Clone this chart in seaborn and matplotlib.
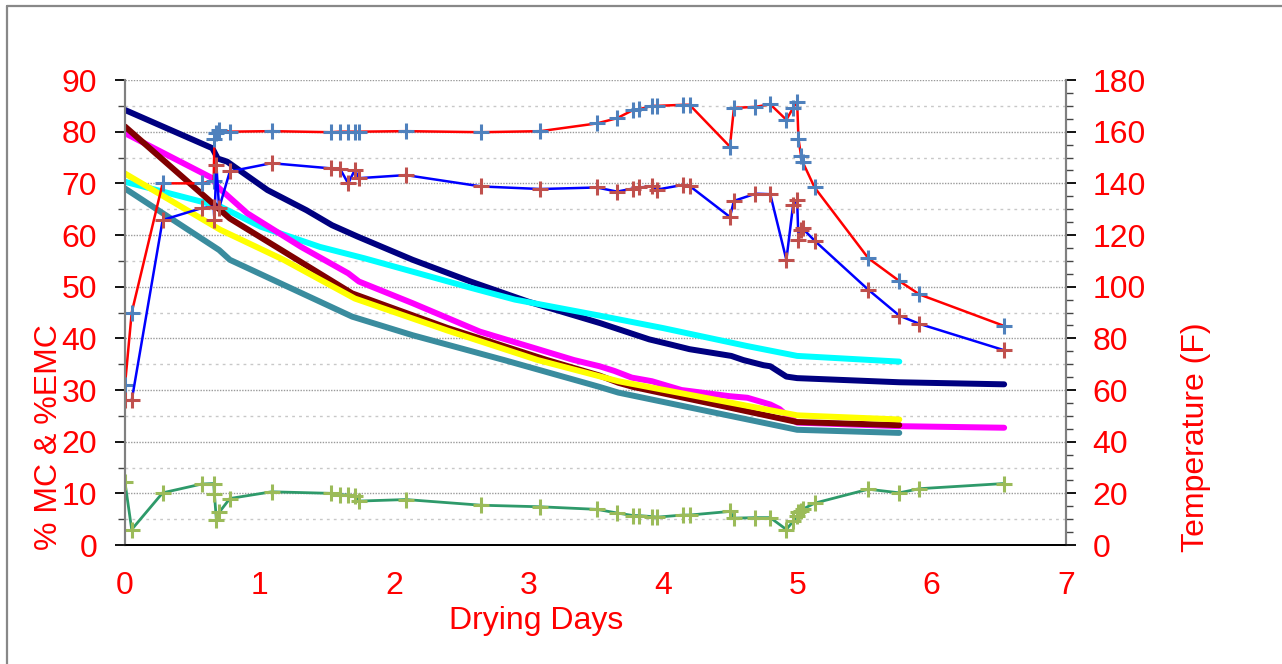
import numpy as np
import pandas as pd
import matplotlib
matplotlib.use("Agg")
import matplotlib.pyplot as plt
from matplotlib.ticker import MultipleLocator
from matplotlib.lines import Line2D
import seaborn as sns

# ------------------------------------------------------------------
#  Data
# ------------------------------------------------------------------
# moisture content curves (% MC), one per sample board
navy_days = [0, 0.65, 0.69, 0.76, 1.06, 1.35, 1.54, 1.73, 2.14, 2.57, 3.0, 3.54, 3.9, 4.06, 4.2, 4.51, 4.6, 4.75, 4.8, 4.92, 5.0, 5.76, 6.54]
navy_mc = [84.2, 76.8, 74.8, 74.2, 68.7, 64.8, 61.9, 59.7, 55.2, 51.0, 47.1, 42.9, 39.8, 38.8, 37.9, 36.6, 35.8, 34.8, 34.6, 32.6, 32.3, 31.5, 31.1]

cyan_days = [0, 0.71, 1.01, 1.45, 1.78, 2.57, 2.9, 3.53, 4.0, 4.63, 5.0, 5.76]
cyan_mc = [70.3, 65.5, 61.6, 57.7, 55.5, 49.8, 47.5, 44.4, 42.0, 38.5, 36.6, 35.5]

magenta_days = [0, 0.65, 0.69, 0.91, 1.31, 1.66, 1.74, 2.14, 2.64, 3.34, 3.53, 3.64, 3.77, 3.92, 4.14, 4.5, 4.63, 4.8, 4.87, 4.95, 5.0, 5.76, 6.54]
magenta_mc = [79.7, 71.0, 69.3, 64.2, 57.7, 52.6, 51.0, 46.8, 41.3, 35.8, 34.6, 33.7, 32.4, 31.7, 30.0, 28.8, 28.5, 27.2, 26.3, 24.5, 23.7, 23.0, 22.7]

maroon_days = [0, 0.78, 1.69, 2.4, 3.14, 3.53, 3.67, 3.78, 5.0, 5.76]
maroon_mc = [81.0, 63.2, 48.7, 42.0, 35.8, 32.8, 31.4, 30.6, 23.8, 23.2]

yellow_days = [0, 0.71, 1.18, 1.71, 2.4, 3.07, 3.67, 5.0, 5.76]
yellow_mc = [71.9, 61.0, 55.2, 47.7, 41.5, 35.8, 31.7, 25.1, 24.3]

teal_days = [0, 0.7, 0.78, 1.21, 1.69, 2.14, 2.82, 3.53, 3.67, 5.0, 5.76]
teal_mc = [69.0, 57.1, 55.2, 50.0, 44.2, 40.6, 35.8, 30.6, 29.5, 22.3, 21.7]

# kiln schedule readings (same time stamps for all three)
sched_days = [0.0, 0.05, 0.28, 0.57, 0.66, 0.665, 0.68, 0.70, 0.78, 1.09,
              1.53, 1.60, 1.66, 1.71, 1.74, 2.09, 2.65, 3.09, 3.51, 3.66,
              3.78, 3.82, 3.92, 3.96, 4.15, 4.20, 4.50, 4.53, 4.69, 4.80,
              4.92, 4.97, 5.00, 5.01, 5.03, 5.04, 5.13, 5.53, 5.76, 5.91, 6.54]
dry_bulb_f = [62, 90, 140, 140, 141, 157, 159.4, 160.6, 160, 160.2,
              159.8, 160, 160, 160, 160, 160.2, 159.8, 160.2, 163.2, 165.2,
              168.4, 168.6, 170, 170, 170.4, 170.4, 154.2, 169.2, 169.6, 170.6,
              164.6, 169.2, 171.6, 157.2, 150.4, 148.4, 138.4, 111, 102.2, 97, 84.8]
wet_bulb_f = [56, 56, 125.8, 130.4, 131, 125.8, 147, 130.4, 144.6, 147.8,
              145.8, 145.6, 140, 145.2, 142, 143.2, 138.8, 137.8, 138.4, 136.8,
              138, 138.4, 138.8, 137.6, 139.4, 139, 127, 133.2, 136, 135.8,
              110.4, 131.6, 133.6, 118, 122, 122.6, 117.8, 98.8, 88.8, 85.6, 75.4]
emc = [12.1, 3.0, 10.1, 11.8, 11.9, 9.9, 4.8, 6.3, 9.0, 10.3,
       10.0, 9.7, 9.7, 9.5, 8.5, 8.8, 7.7, 7.4, 6.9, 6.2,
       5.7, 5.7, 5.5, 5.4, 5.8, 5.8, 6.5, 5.2, 5.3, 5.3,
       3.0, 4.6, 5.6, 6.3, 6.6, 6.9, 8.1, 10.8, 10.1, 10.9, 11.9]

boards = ["navy", "cyan", "magenta", "maroon", "yellow", "teal"]
board_colors = ["#000080", "#00FFFF", "#FF00FF", "#800000", "#FFFF00", "#3A8C9E"]

# ------------------------------------------------------------------
#  Build a long table for the MC curves
# ------------------------------------------------------------------
mc_frames = []
for name, d, v in zip(boards,
                      [navy_days, cyan_days, magenta_days, maroon_days, yellow_days, teal_days],
                      [navy_mc, cyan_mc, magenta_mc, maroon_mc, yellow_mc, teal_mc]):
    mc_frames.append(pd.DataFrame({"day": d, "mc": v, "board": name}))
mc_df = pd.concat(mc_frames, ignore_index=True)

# ------------------------------------------------------------------
#  Figure
# ------------------------------------------------------------------
sns.set_style("white")
plt.rcParams["font.family"] = ["Liberation Sans", "DejaVu Sans"]

fig = plt.figure(figsize=(12.82, 6.64), dpi=100)
ax = fig.add_axes([0.0975, 0.1792, 0.734, 0.7003])
ax2 = ax.twinx()

# frame around the chart area (cut at right/bottom like the original)
fig.add_artist(Line2D([7 / 1282, 7 / 1282], [0, 1 - 6 / 664], transform=fig.transFigure,
                      color="#888888", lw=1.6))
fig.add_artist(Line2D([7 / 1282, 1], [1 - 6 / 664, 1 - 6 / 664], transform=fig.transFigure,
                      color="#888888", lw=1.6))

sns.lineplot(data=mc_df, x="day", y="mc", hue="board", hue_order=boards,
             palette=board_colors, lw=4.3, sort=False, estimator=None,
             legend=False, ax=ax, zorder=2)

sns.lineplot(x=sched_days, y=emc, ax=ax, sort=False, estimator=None,
             color="#2E9A6A", lw=2.0, marker="+", markersize=12,
             markeredgewidth=2.2, markeredgecolor="#9BBB59", zorder=3)

sns.lineplot(x=sched_days, y=dry_bulb_f, ax=ax2, sort=False, estimator=None,
             color="#FF0000", lw=1.8, marker="+", markersize=12,
             markeredgewidth=2.2, markeredgecolor="#4F81BD")
sns.lineplot(x=sched_days, y=wet_bulb_f, ax=ax2, sort=False, estimator=None,
             color="#0000FF", lw=1.8, marker="+", markersize=12,
             markeredgewidth=2.2, markeredgecolor="#C0504D")

# axes limits & ticks
ax.set_xlim(0, 7)
ax.set_ylim(0, 90)
ax2.set_ylim(0, 180)
ax.xaxis.set_major_locator(MultipleLocator(1))
ax.xaxis.set_minor_locator(MultipleLocator(0.5))
ax.yaxis.set_major_locator(MultipleLocator(10))
ax.yaxis.set_minor_locator(MultipleLocator(5))
ax2.yaxis.set_major_locator(MultipleLocator(20))
ax2.yaxis.set_minor_locator(MultipleLocator(5))

ax.grid(which="major", axis="y", color="#9A9A9A", ls=(0, (1, 1)), lw=1.0)
ax.grid(which="minor", axis="y", color="#C8C8C8", ls=(0, (2, 3)), lw=1.0)
ax.grid(which="both", axis="x", visible=False)
ax2.grid(False)
ax.set_axisbelow(True)

red = "#FF0000"
for a in (ax, ax2):
    a.tick_params(which="major", direction="out", length=7, width=1.3,
                  color="black", labelsize=23, labelcolor=red)
    a.tick_params(which="minor", direction="out", length=5, width=1.0,
                  color="#444444")
ax.tick_params(axis="y", which="major", pad=13)
ax.tick_params(axis="x", which="major", pad=12)
ax2.tick_params(axis="y", which="major", pad=12)

for a in (ax, ax2):
    a.spines["top"].set_visible(False)
    a.spines["left"].set_color("#808080")
    a.spines["right"].set_color("#808080")
    a.spines["left"].set_linewidth(1.5)
    a.spines["right"].set_linewidth(1.5)
    a.spines["bottom"].set_color("black")
    a.spines["bottom"].set_linewidth(1.3)

ax.set_xlabel("Drying Days", color=red, fontsize=23)
ax.set_ylabel("% MC & %EMC", color=red, fontsize=23)
ax2.set_ylabel("Temperature (F)", color=red, fontsize=23)
ax.xaxis.set_label_coords((536 - 125) / 941, (545 - 606) / 465)
ax.yaxis.set_label_coords((64 - 125) / 941, (545 - 437) / 465)
ax2.yaxis.set_label_coords((1181 - 125) / 941, (545 - 437) / 465)

fig.savefig("out.png", dpi=100)
